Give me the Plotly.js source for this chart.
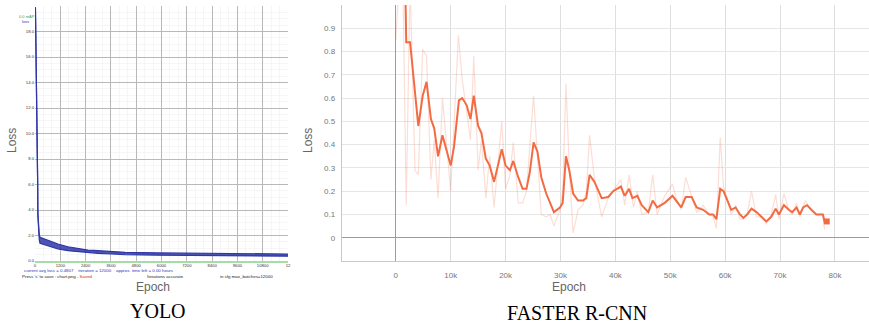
<!DOCTYPE html>
<html>
<head>
<meta charset="utf-8">
<script src="https://cdn.plot.ly/plotly-3.0.1.min.js"></script>
<style>
  html, body { margin: 0; padding: 0; background: #ffffff; }
  #chart { width: 869px; height: 327px; }
</style>
</head>
<body>
<div id="chart"></div>
<script>
// ---------------- YOLO (darknet chart) ----------------
const yoloIter = [20, 60, 100, 118, 126, 135, 160, 200, 237, 474, 790, 1090, 1560, 2040, 2510, 2990, 3640, 4270, 5830, 7600, 9700, 12000];
const yoloLossHigh = [19.9, 15.5, 11.8, 10.4, 6.2, 3.8, 2.6, 2.1, 1.86, 1.70, 1.51, 1.33, 1.12, 1.00, 0.86, 0.81, 0.73, 0.68, 0.63, 0.60, 0.58, 0.55];
const yoloLossLow  = [19.9, 15.5, 11.8, 10.4, 6.2, 3.6, 2.3, 1.7, 1.39, 1.25, 1.07, 0.94, 0.81, 0.73, 0.65, 0.60, 0.55, 0.49, 0.45, 0.42, 0.40, 0.38];
const yoloXTicks = [0, 1200, 2400, 3600, 4800, 6000, 7200, 8400, 9600, 10800, 12000];
const yoloXLabels = ["0", "1200", "2400", "3600", "4800", "6000", "7200", "8400", "9600", "10800", "12"];
const yoloYTicks = [0, 2, 4, 6, 8, 10, 12, 14, 16, 18];
const yoloYLabels = ["0.0", "2.0", "4.0", "6.0", "8.0", "10.0", "12.0", "14.0", "16.0", "18.0"];

// ---------------- Faster R-CNN (TensorBoard) ----------------
const frcnnSmoothEpoch = [1750, 1900, 2600, 4100, 4900, 5600, 6400, 7000, 7700, 8500, 10000, 10600, 11500, 12100, 12900, 13600, 14200, 15000, 15600, 16400, 17100, 17900, 19300, 20000, 20800, 21400, 22300, 23100, 23800, 24400, 25100, 25800, 26500, 27400, 28800, 29900, 30400, 31000, 31600, 32300, 33200, 34100, 34700, 35300, 36200, 37500, 38700, 39600, 41000, 41700, 42500, 43100, 44000, 44800, 46000, 46800, 47600, 49000, 50400, 51100, 52000, 52800, 53900, 54800, 56000, 57100, 57800, 58400, 59100, 59700, 60500, 61100, 61900, 62700, 63300, 64000, 64800, 65700, 66600, 67500, 68400, 69200, 69800, 70700, 71600, 72200, 73000, 73600, 74200, 74900, 75700, 76600, 77800, 78100];
const frcnnSmoothLoss = [1.05, 0.84, 0.84, 0.48, 0.61, 0.67, 0.51, 0.47, 0.35, 0.44, 0.31, 0.39, 0.59, 0.60, 0.57, 0.51, 0.61, 0.48, 0.45, 0.34, 0.31, 0.24, 0.38, 0.31, 0.29, 0.33, 0.26, 0.21, 0.21, 0.28, 0.41, 0.37, 0.26, 0.19, 0.11, 0.13, 0.15, 0.35, 0.29, 0.19, 0.16, 0.16, 0.17, 0.27, 0.24, 0.17, 0.175, 0.20, 0.22, 0.18, 0.21, 0.17, 0.18, 0.14, 0.11, 0.16, 0.13, 0.15, 0.18, 0.16, 0.13, 0.175, 0.175, 0.13, 0.12, 0.10, 0.10, 0.08, 0.21, 0.20, 0.15, 0.12, 0.13, 0.10, 0.085, 0.10, 0.125, 0.11, 0.09, 0.07, 0.09, 0.125, 0.10, 0.14, 0.12, 0.11, 0.13, 0.10, 0.13, 0.14, 0.12, 0.10, 0.10, 0.07];
const frcnnRawEpoch = [0, 600, 1300, 1900, 2600, 3500, 4100, 4900, 5600, 6400, 7000, 7700, 8500, 9300, 10000, 10600, 11400, 12100, 12900, 13600, 14200, 15000, 15600, 16400, 17100, 17900, 19300, 20000, 20800, 21400, 22300, 23100, 23800, 24400, 25100, 25800, 26500, 27400, 28100, 28800, 29900, 30400, 31000, 31600, 32300, 33200, 34100, 34700, 35300, 36200, 37500, 38700, 39600, 41000, 41700, 42500, 43300, 44000, 44800, 46000, 46800, 47600, 49000, 50400, 51100, 52000, 52800, 53900, 54800, 56000, 57100, 57800, 58400, 59100, 59700, 60500, 61100, 61900, 62700, 63300, 64000, 64800, 65700, 66600, 67500, 68400, 69200, 69800, 70700, 71600, 72200, 73000, 73600, 74600, 75700, 76600, 77800, 78100];
const frcnnRawLoss = [0.85, 1.1, 1.1, 0.14, 1.1, 0.29, 0.27, 0.81, 0.78, 0.25, 0.42, 0.17, 0.60, 0.39, 0.20, 0.48, 0.87, 0.68, 0.55, 0.42, 0.78, 0.29, 0.42, 0.17, 0.35, 0.13, 0.50, 0.21, 0.27, 0.41, 0.15, 0.15, 0.20, 0.38, 0.61, 0.35, 0.10, 0.09, 0.10, 0.05, 0.12, 0.20, 0.66, 0.30, 0.02, 0.12, 0.14, 0.20, 0.44, 0.25, 0.09, 0.17, 0.20, 0.25, 0.14, 0.27, 0.13, 0.20, 0.10, 0.11, 0.27, 0.10, 0.18, 0.23, 0.17, 0.12, 0.26, 0.18, 0.11, 0.14, 0.10, 0.09, 0.04, 0.43, 0.22, 0.16, 0.10, 0.14, 0.08, 0.08, 0.10, 0.20, 0.09, 0.09, 0.06, 0.10, 0.185, 0.08, 0.19, 0.12, 0.10, 0.15, 0.09, 0.16, 0.12, 0.10, 0.10, 0.035];
const frcnnLastEpoch = [78500];
const frcnnLastLoss = [0.07];
const frcnnYTicks = [0, 0.1, 0.2, 0.3, 0.4, 0.5, 0.6, 0.7, 0.8, 0.9];
const frcnnYLabels = ["0", "0.1", "0.2", "0.3", "0.4", "0.5", "0.6", "0.7", "0.8", "0.9"];

const W = 869, H = 327;
const px = v => v / W;
const py = v => (H - v) / H;

const blue = '#2f36a6';
const orange = '#f26b43';

const traces = [
  { x: yoloIter, y: yoloLossLow, type: 'scatter', mode: 'lines', xaxis: 'x', yaxis: 'y',
    line: { color: blue, width: 1.2 }, hoverinfo: 'skip' },
  { x: yoloIter, y: yoloLossHigh, type: 'scatter', mode: 'lines', xaxis: 'x', yaxis: 'y',
    line: { color: blue, width: 1.2 }, fill: 'tonexty', fillcolor: 'rgba(47,54,166,0.85)' },
  { x: frcnnRawEpoch, y: frcnnRawLoss, type: 'scatter', mode: 'lines', xaxis: 'x2', yaxis: 'y2',
    line: { color: 'rgba(242,107,67,0.22)', width: 1.2 } },
  { x: frcnnSmoothEpoch, y: frcnnSmoothLoss, type: 'scatter', mode: 'lines', xaxis: 'x2', yaxis: 'y2',
    line: { color: orange, width: 2 } },
  { x: frcnnLastEpoch, y: frcnnLastLoss, type: 'scatter', mode: 'markers', xaxis: 'x2', yaxis: 'y2',
    marker: { color: orange, size: 6, symbol: 'square' } }
];

const tiny = { family: 'Liberation Sans, Arial, sans-serif', size: 4.2, color: '#333' };

const layout = {
  width: W, height: H,
  margin: { l: 0, r: 0, t: 0, b: 0 },
  paper_bgcolor: '#ffffff', plot_bgcolor: '#ffffff',
  showlegend: false,
  font: { family: 'Liberation Sans, Arial, sans-serif' },
  xaxis: {
    domain: [px(35), px(288)], range: [0, 12000], anchor: 'y',
    tickmode: 'array', tickvals: yoloXTicks, ticktext: yoloXLabels,
    tickfont: tiny, ticks: '', ticklabelstandoff: -1, showgrid: true, gridcolor: '#b8b8b8', gridwidth: 1,
    minor: { tickmode: 'linear', tick0: 0, dtick: 400, showgrid: true, gridcolor: '#f0f0f0', gridwidth: 0.6, ticks: '' },
    zeroline: false, showline: true, linecolor: '#a6dca6', linewidth: 1.5, fixedrange: true
  },
  yaxis: {
    domain: [py(261), py(6)], range: [0, 20], anchor: 'x',
    tickmode: 'array', tickvals: yoloYTicks, ticktext: yoloYLabels,
    tickfont: tiny, ticks: '', showgrid: true, gridcolor: '#b8b8b8', gridwidth: 1,
    minor: { tickmode: 'linear', tick0: 0, dtick: 0.5, showgrid: true, gridcolor: '#f0f0f0', gridwidth: 0.6, ticks: '' },
    zeroline: false, showline: false, fixedrange: true
  },
  xaxis2: {
    domain: [px(342), 1], range: [-9800, 86200], anchor: 'y2',
    tickmode: 'linear', tick0: 0, dtick: 10000, tickformat: '~s',
    tickfont: { size: 8, color: '#777' }, ticks: '', ticklabelstandoff: 6,
    showgrid: true, gridcolor: '#dedede', gridwidth: 1,
    zeroline: true, zerolinecolor: '#9c9c9c', zerolinewidth: 1.2,
    showline: true, linecolor: '#c8c8c8', linewidth: 1.2, fixedrange: true
  },
  yaxis2: {
    domain: [py(261), py(5)], range: [-0.1, 1.0], anchor: 'x2',
    tickmode: 'array', tickvals: frcnnYTicks, ticktext: frcnnYLabels,
    tickfont: { size: 8, color: '#777' }, ticks: '', ticklabelstandoff: 4,
    showgrid: true, gridcolor: '#e6e6e6', gridwidth: 1,
    zeroline: true, zerolinecolor: '#9c9c9c', zerolinewidth: 1.2,
    showline: true, linecolor: '#c8c8c8', linewidth: 1.2, fixedrange: true
  },
  annotations: [
    // axis titles
    { text: 'Loss', x: px(12), y: py(141), xref: 'paper', yref: 'paper', showarrow: false, textangle: -90,
      font: { size: 12, color: '#666' }, xanchor: 'center', yanchor: 'middle' },
    { text: 'Epoch', x: px(153), y: py(287), xref: 'paper', yref: 'paper', showarrow: false,
      font: { size: 12, color: '#666' }, xanchor: 'center', yanchor: 'middle' },
    { text: 'Loss', x: px(308), y: py(141), xref: 'paper', yref: 'paper', showarrow: false, textangle: -90,
      font: { size: 12, color: '#666' }, xanchor: 'center', yanchor: 'middle' },
    { text: 'Epoch', x: px(569), y: py(287), xref: 'paper', yref: 'paper', showarrow: false,
      font: { size: 12, color: '#666' }, xanchor: 'center', yanchor: 'middle' },
    // captions
    { text: 'YOLO', x: px(158), y: py(311), xref: 'paper', yref: 'paper', showarrow: false,
      font: { family: 'Liberation Serif, Times New Roman, serif', size: 20, color: '#000' }, xanchor: 'center', yanchor: 'middle' },
    { text: 'FASTER R-CNN', x: px(577), y: py(313), xref: 'paper', yref: 'paper', showarrow: false,
      font: { family: 'Liberation Serif, Times New Roman, serif', size: 20, color: '#000' }, xanchor: 'center', yanchor: 'middle' },
    // darknet chart small texts
    { text: 'current avg loss = 0.4807    iteration = 12000    approx. time left = 0.00 hours', x: px(22), y: py(270), xref: 'paper', yref: 'paper', showarrow: false,
      font: { size: 4.4, color: '#2f36c0' }, xanchor: 'left', yanchor: 'middle' },
    { text: "Press 's' to save : chart.png - <span style='color:#e02020'>Saved</span>", x: px(20), y: py(276.5), xref: 'paper', yref: 'paper', showarrow: false,
      font: { size: 4.4, color: '#222' }, xanchor: 'left', yanchor: 'middle' },
    { text: 'Iterations accurate', x: px(145), y: py(276.5), xref: 'paper', yref: 'paper', showarrow: false,
      font: { size: 4.4, color: '#222' }, xanchor: 'left', yanchor: 'middle' },
    { text: 'in cfg max_batches=12000', x: px(218), y: py(276.5), xref: 'paper', yref: 'paper', showarrow: false,
      font: { size: 4.4, color: '#222' }, xanchor: 'left', yanchor: 'middle' },
    { text: '0.0 mAP', x: px(17), y: py(17), xref: 'paper', yref: 'paper', showarrow: false,
      font: { size: 4, color: '#3aa055' }, xanchor: 'left', yanchor: 'middle' },
    { text: 'loss', x: px(20), y: py(22), xref: 'paper', yref: 'paper', showarrow: false,
      font: { size: 4, color: '#2f36c0' }, xanchor: 'left', yanchor: 'middle' }
  ]
};

Plotly.newPlot('chart', traces, layout, { staticPlot: true, displayModeBar: false });
</script>
</body>
</html>
